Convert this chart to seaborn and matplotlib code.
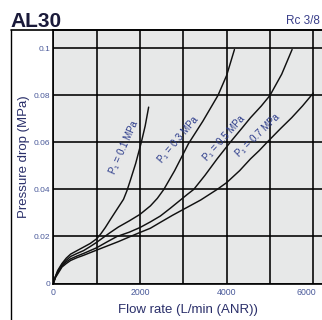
import matplotlib
matplotlib.use("Agg")
import matplotlib.pyplot as plt
from matplotlib.lines import Line2D
from matplotlib.transforms import ScaledTranslation
import seaborn as sns
import pandas as pd

# ---- data ----
flow_p01 = [0, 50, 100, 200, 300, 400, 550, 700, 850, 1000, 1100, 1200, 1320, 1450, 1620, 1700, 1780, 1900, 2030, 2120, 2200]
drop_p01 = [0, 0.003, 0.0055, 0.0085, 0.0108, 0.0125, 0.014, 0.0155, 0.017, 0.019, 0.0212, 0.0238, 0.0273, 0.031, 0.0358, 0.0395, 0.044, 0.051, 0.060, 0.067, 0.075]

flow_p03 = [0, 50, 100, 200, 300, 400, 550, 700, 850, 1000, 1150, 1300, 1500, 1750, 2000, 2240, 2400, 2550, 2800, 3120, 3450, 3800, 4000, 4180]
drop_p03 = [0, 0.003, 0.005, 0.008, 0.0099, 0.0115, 0.0128, 0.014, 0.0157, 0.0175, 0.0195, 0.0215, 0.024, 0.0266, 0.0294, 0.033, 0.0362, 0.040, 0.048, 0.0595, 0.069, 0.080, 0.0885, 0.0995]

flow_p05 = [0, 50, 100, 200, 300, 400, 550, 700, 850, 1000, 1250, 1470, 1750, 2000, 2240, 2470, 2700, 2900, 3100, 3240, 3500, 3780, 4080, 4350, 4550, 4800, 5000, 5270, 5510]
drop_p05 = [0, 0.0028, 0.0045, 0.0075, 0.0092, 0.0105, 0.0117, 0.0128, 0.014, 0.0152, 0.0178, 0.020, 0.0218, 0.0238, 0.0262, 0.0287, 0.032, 0.035, 0.038, 0.040, 0.046, 0.053, 0.060, 0.066, 0.0705, 0.0755, 0.080, 0.089, 0.0995]

flow_p07 = [0, 50, 100, 200, 300, 400, 550, 700, 850, 1000, 1250, 1500, 1780, 2000, 2240, 2470, 2750, 3000, 3400, 3780, 4000, 4300, 4550, 4750, 4930, 5250, 5500, 5750, 6000]
drop_p07 = [0, 0.0025, 0.004, 0.007, 0.0085, 0.0098, 0.011, 0.012, 0.0131, 0.0142, 0.016, 0.0178, 0.020, 0.0217, 0.0235, 0.026, 0.029, 0.0315, 0.0355, 0.040, 0.0429, 0.048, 0.053, 0.0565, 0.060, 0.066, 0.0705, 0.0755, 0.081]

series_names = ["P\u2081 = 0.1 MPa", "P\u2081 = 0.3 MPa", "P\u2081 = 0.5 MPa", "P\u2081 = 0.7 MPa"]
x_ticks = [0, 2000, 4000, 6000]
x_tick_labels = ["0", "2000", "4000", "6000"]
y_ticks = [0, 0.02, 0.04, 0.06, 0.08, 0.1]
y_tick_labels = ["0", "0.02", "0.04", "0.06", "0.08", "0.1"]

# label placement (data coords) and angles
label_x = [1640, 2880, 3930, 4720]
label_y = [0.0578, 0.0612, 0.0617, 0.0628]
label_rot = [66, 50, 48, 44]

frames = []
for name, fx, fy in zip(series_names,
                        [flow_p01, flow_p03, flow_p05, flow_p07],
                        [drop_p01, drop_p03, drop_p05, drop_p07]):
    frames.append(pd.DataFrame({"flow": fx, "drop": fy, "series": name}))
df = pd.concat(frames, ignore_index=True)

sns.set_style("white")
plt.rcParams["font.family"] = ["Liberation Sans", "DejaVu Sans"]

W, H = 322, 320
fig = plt.figure(figsize=(W / 100, H / 100), dpi=100)
fig.patch.set_facecolor("white")

left_px, right_px, top_px, bottom_px = 53.3, 322, 30, 283.5
ax = fig.add_axes([left_px / W, 1 - bottom_px / H, (right_px - left_px) / W, (bottom_px - top_px) / H])
ax.set_facecolor("#e7e8e8")

sns.lineplot(data=df, x="flow", y="drop", units="series", estimator=None,
             color="#111111", linewidth=1.05, sort=False, ax=ax, legend=False)

ax.set_xlim(0, 6200)
ax.set_ylim(0, 0.1078)
ax.set_xticks(x_ticks, labels=x_tick_labels)
ax.set_xticks([1000, 3000, 5000], minor=True)
ax.set_yticks(y_ticks, labels=y_tick_labels)
ax.grid(True, which="major", color="black", linewidth=1.15)
ax.grid(True, which="minor", axis="x", color="black", linewidth=1.15)
ax.set_axisbelow(True)
ax.tick_params(axis="both", which="both", length=0, labelcolor="#4a5a9a")
ax.tick_params(axis="x", labelsize=6.3, pad=3.5)
ax.tick_params(axis="y", labelsize=6.0, pad=2)

# nudge the last x tick label left so it stays inside the picture
last_lab = ax.get_xticklabels()[-1]
last_lab.set_transform(last_lab.get_transform() + ScaledTranslation(-5 / 72, 0, fig.dpi_scale_trans))

for side in ["left", "bottom", "top"]:
    ax.spines[side].set_visible(True)
    ax.spines[side].set_color("black")
    ax.spines[side].set_linewidth(1.2)
ax.spines["right"].set_visible(False)

ax.set_xlabel("Flow rate (L/min (ANR))", fontsize=9.5, color="#2a2f6a", labelpad=5)
ax.set_ylabel("Pressure drop (MPa)", fontsize=9.5, color="#2a2f6a", labelpad=3)

for name, lx, ly, rot in zip(series_names, label_x, label_y, label_rot):
    ax.text(lx, ly, name, rotation=rot, rotation_mode="anchor", ha="center", va="center",
            fontsize=7, color="#2a3a8a")

# outer frame
fx0 = 11 / W
fy0 = 1 - 30 / H
fig.add_artist(Line2D([fx0, fx0], [0, fy0], transform=fig.transFigure, color="black", linewidth=1.0))
fig.add_artist(Line2D([fx0, 1], [fy0, fy0], transform=fig.transFigure, color="black", linewidth=1.2))

fig.text(10 / W, 1 - 27 / H, "AL30", fontsize=15, fontweight="bold", color="#1a1a3a", ha="left", va="baseline")
fig.text(320 / W, 1 - 24 / H, "Rc 3/8", fontsize=8.5, color="#3a3f8a", ha="right", va="baseline")

fig.savefig("out.png", dpi=100)
